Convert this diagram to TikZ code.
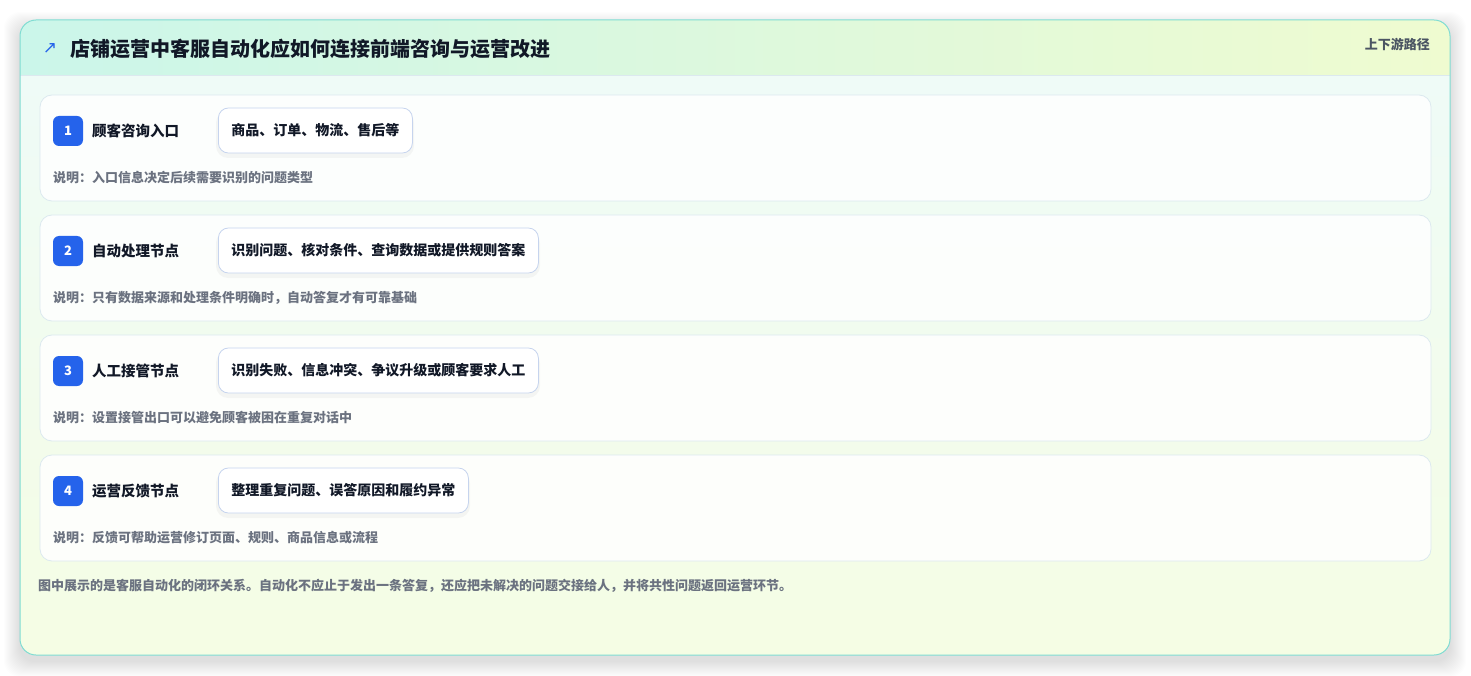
\documentclass[tikz,border=0pt]{standalone}
\usepackage{fontspec}
\setmainfont{Noto Sans CJK SC}
\newfontfamily\symfont{DejaVu Sans}
\usetikzlibrary{positioning}

\definecolor{cardline}{HTML}{7FDCD2}
\definecolor{headL}{HTML}{CBF6EA}
\definecolor{headR}{HTML}{EFFBD0}
\definecolor{bodyT}{HTML}{EEFBF9}
\definecolor{bodyB}{HTML}{F5FDE4}
\definecolor{rowline}{HTML}{DCE9EF}
\definecolor{pillline}{HTML}{C6D4EE}
\definecolor{badgeblue}{HTML}{2563EB}
\definecolor{inktext}{HTML}{111827}
\definecolor{notegrey}{HTML}{6B7280}
\definecolor{taggrey}{HTML}{4B5563}

\tikzset{
  rowbox/.style={draw=rowline, fill=white, fill opacity=0.85, rounded corners=12pt, line width=0.8pt,
    minimum width=1391pt, minimum height=106pt, inner sep=0pt},
  badge/.style={fill=badgeblue, rounded corners=6pt, minimum size=30pt, inner sep=0pt,
    text=white, font=\bfseries\fontsize{13}{15}\selectfont},
  steplabel/.style={anchor=west, text=inktext, inner sep=0pt,
    font=\bfseries\fontsize{14.5}{17}\selectfont},
  pill/.style={anchor=west, draw=pillline, fill=white, rounded corners=10pt, line width=0.8pt,
    minimum height=45pt, inner xsep=13pt, text=inktext,
    font=\bfseries\fontsize{14}{16}\selectfont},
  pillshadow/.style={fill=black, opacity=0.035, rounded corners=12pt},
  notetext/.style={anchor=west, text=notegrey, inner sep=0pt,
    font=\bfseries\fontsize{13}{15}\selectfont}
}

\begin{document}
\begin{tikzpicture}[x=1pt, y=-1pt]
  \useasboundingbox (0,0) rectangle (1471,676);

  % soft shadow under the card
  \foreach \s in {1,...,16}
    \fill[black, opacity=0.009, rounded corners=16pt]
      (20-\s,20-\s+8) rectangle (1450+\s,655+\s+6);

  % card body and header band
  \begin{scope}
    \clip[rounded corners=16pt] (20,20) rectangle (1450,655);
    \shade[top color=bodyT, bottom color=bodyB] (20,20) rectangle (1450,655);
    \shade[left color=headL, right color=headR] (20,20) rectangle (1450,75);
    \draw[rowline, line width=0.8pt] (20,75) -- (1450,75);
  \end{scope}
  \draw[cardline, line width=1pt, rounded corners=16pt] (20,20) rectangle (1450,655);

  % header
  \node[text=badgeblue, font=\symfont\fontsize{17}{19}\selectfont] (icon) at (50,49) {↗};
  \node[anchor=west, text=inktext, inner sep=0pt, font=\bfseries\fontsize{20}{24}\selectfont]
    (title) at (70,49) {店铺运营中客服自动化应如何连接前端咨询与运营改进};
  \node[anchor=east, text=taggrey, inner sep=0pt, font=\bfseries\fontsize{13}{15}\selectfont]
    (tag) at (1430,44) {上下游路径};

  % step 1
  \node[rowbox] (row1) at (735.5,148) {};
  \node[badge] (b1) at (68,131) {1};
  \node[steplabel] (l1) at (92,131) {顾客咨询入口};
  \fill[pillshadow] (216,111) rectangle (414,158);
  \node[pill] (p1) at (218,130.5) {商品、订单、物流、售后等};
  \node[notetext] (n1) at (53,178) {说明：入口信息决定后续需要识别的问题类型};

  % step 2
  \node[rowbox] (row2) at (735.5,268) {};
  \node[badge] (b2) at (68,251) {2};
  \node[steplabel] (l2) at (92,251) {自动处理节点};
  \fill[pillshadow] (216,231) rectangle (540,278);
  \node[pill] (p2) at (218,250.5) {识别问题、核对条件、查询数据或提供规则答案};
  \node[notetext] (n2) at (53,298) {说明：只有数据来源和处理条件明确时，自动答复才有可靠基础};

  % step 3
  \node[rowbox] (row3) at (735.5,388) {};
  \node[badge] (b3) at (68,371) {3};
  \node[steplabel] (l3) at (92,371) {人工接管节点};
  \fill[pillshadow] (216,351) rectangle (540,398);
  \node[pill] (p3) at (218,370.5) {识别失败、信息冲突、争议升级或顾客要求人工};
  \node[notetext] (n3) at (53,418) {说明：设置接管出口可以避免顾客被困在重复对话中};

  % step 4
  \node[rowbox] (row4) at (735.5,508) {};
  \node[badge] (b4) at (68,491) {4};
  \node[steplabel] (l4) at (92,491) {运营反馈节点};
  \fill[pillshadow] (216,471) rectangle (470,518);
  \node[pill] (p4) at (218,490.5) {整理重复问题、误答原因和履约异常};
  \node[notetext] (n4) at (53,538) {说明：反馈可帮助运营修订页面、规则、商品信息或流程};

  % closing remark
  \node[notetext] (foot) at (38,586)
    {图中展示的是客服自动化的闭环关系。自动化不应止于发出一条答复，还应把未解决的问题交接给人，并将共性问题返回运营环节。};
\end{tikzpicture}
\end{document}
